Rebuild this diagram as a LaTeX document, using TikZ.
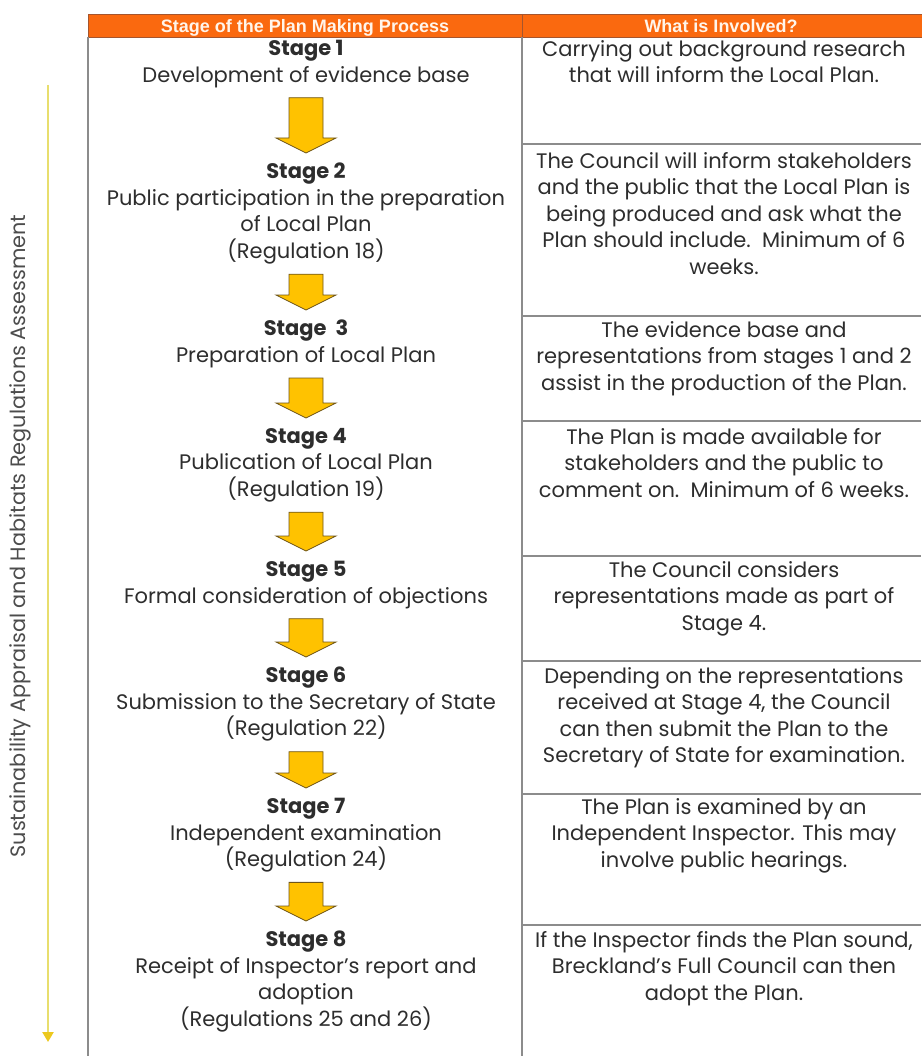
\documentclass[tikz,border=0pt]{standalone}
\usepackage{fontspec}
\setmainfont{Poppins}
\newfontfamily\headfont{Liberation Sans}
\usetikzlibrary{arrows.meta,calc}

\definecolor{arancio}{RGB}{250,105,15}
\definecolor{bordoarancio}{RGB}{165,85,45}
\definecolor{giallo}{RGB}{255,194,0}
\definecolor{bordogiallo}{RGB}{110,85,25}
\definecolor{lineagialla}{RGB}{232,222,110}
\definecolor{puntagialla}{RGB}{236,200,30}
\definecolor{griglia}{RGB}{140,140,140}
\definecolor{testo}{RGB}{45,45,45}

\newcommand{\corpo}{\fontsize{21}{26.5}\selectfont}

% freccia gialla tra due fasi
\newcommand{\freccia}[2]{%
  \filldraw[blocco] let \p1=(#1.south), \p2=(#2.north) in
    (\x1-17pt,\y1) -- (\x1+17pt,\y1) -- (\x1+17pt,\y2+15pt) -- (\x1+30pt,\y2+15pt)
    -- (\x1,\y2) -- (\x1-30pt,\y2+15pt) -- (\x1-17pt,\y2+15pt) -- cycle;}

\begin{document}
\begin{tikzpicture}[x=1pt,y=-1pt,
    fase/.style={anchor=north,align=center,font=\corpo,text=testo,inner xsep=0pt,inner ysep=10pt},
    descr/.style={anchor=north,align=center,font=\corpo,text=testo,inner sep=0pt},
    intest/.style={anchor=base,font=\headfont\bfseries\fontsize{18}{20}\selectfont,text=white!92!orange,inner sep=0pt},
    blocco/.style={fill=giallo,draw=bordogiallo,line width=0.8pt,line join=miter},
    riga/.style={griglia,line width=1.3pt},
    asse/.style={lineagialla,line width=2.5pt,-{Triangle[width=11pt,length=10pt,color=puntagialla]}}]
    \useasboundingbox (0,0) rectangle (921,1056);

    % Intestazione
    \filldraw[fill=arancio,draw=bordoarancio,line width=0.8pt] (88,14) rectangle (922,37);
    \draw[bordoarancio,line width=0.8pt] (522,14) -- (522,37);
    \node[intest] (h1) at (305,33) {Stage of the Plan Making Process};
    \node[intest] (h2) at (721,33) {What is Involved?};

    % Griglia della tabella
    \draw[riga] (88,37) -- (88,1056);
    \draw[riga] (522,37) -- (522,1056);
    \foreach \r in {144,316,421,556,661,794,925}
        \draw[riga] (522,\r) -- (921,\r);

    % Fasi
    \node[fase] (s1) at (306,30) {\textbf{Stage 1}\\Development of evidence base};
    \node[fase] (s2) at (306,153) {\textbf{Stage 2}\\Public participation in the preparation\\of Local Plan\\(Regulation 18)};
    \node[fase] (s3) at (306,310) {\textbf{Stage\ \ 3}\\Preparation of Local Plan};
    \node[fase] (s4) at (306,418) {\textbf{Stage 4}\\Publication of Local Plan\\(Regulation 19)};
    \node[fase] (s5) at (306,551) {\textbf{Stage 5}\\Formal consideration of objections};
    \node[fase] (s6) at (306,657) {\textbf{Stage 6}\\Submission to the Secretary of State\\(Regulation 22)};
    \node[fase] (s7) at (306,788) {\textbf{Stage 7}\\Independent examination\\(Regulation 24)};
    \node[fase] (s8) at (306,921) {\textbf{Stage 8}\\Receipt of Inspector’s report and\\adoption\\(Regulations 25 and 26)};

    % Frecce tra le fasi
    \foreach \a/\b in {s1/s2,s2/s3,s3/s4,s4/s5,s5/s6,s6/s7,s7/s8}
        \freccia{\a}{\b};

    % Descrizioni
    \node[descr] (r1) at (724,40) {Carrying out background research\\that will inform the Local Plan.};
    \node[descr] (r2) at (724,152) {The Council will inform stakeholders\\and the public that the Local Plan is\\being produced and ask what the\\Plan should include.\ \ Minimum of 6\\weeks.};
    \node[descr] (r3) at (724,321) {The evidence base and\\representations from stages 1 and 2\\assist in the production of the Plan.};
    \node[descr] (r4) at (724,428) {The Plan is made available for\\stakeholders and the public to\\comment on.\ \ Minimum of 6 weeks.};
    \node[descr] (r5) at (724,561) {The Council considers\\representations made as part of\\Stage 4.};
    \node[descr] (r6) at (724,667) {Depending on the representations\\received at Stage 4, the Council\\can then submit the Plan to the\\Secretary of State for examination.};
    \node[descr] (r7) at (724,798) {The Plan is examined by an\\Independent Inspector. This may\\involve public hearings.};
    \node[descr] (r8) at (724,931) {If the Inspector finds the Plan sound,\\Breckland’s Full Council can then\\adopt the Plan.};

    % Asse laterale
    \coordinate (inizio) at (48,85);
    \coordinate (fine) at (48,1042);
    \draw[asse] (inizio) -- (fine);
    \node[rotate=90,font=\fontsize{20.8}{24}\selectfont,text=testo!85] (sa) at (20,536)
        {Sustainability Appraisal and Habitats Regulations Assessment};
\end{tikzpicture}
\end{document}
